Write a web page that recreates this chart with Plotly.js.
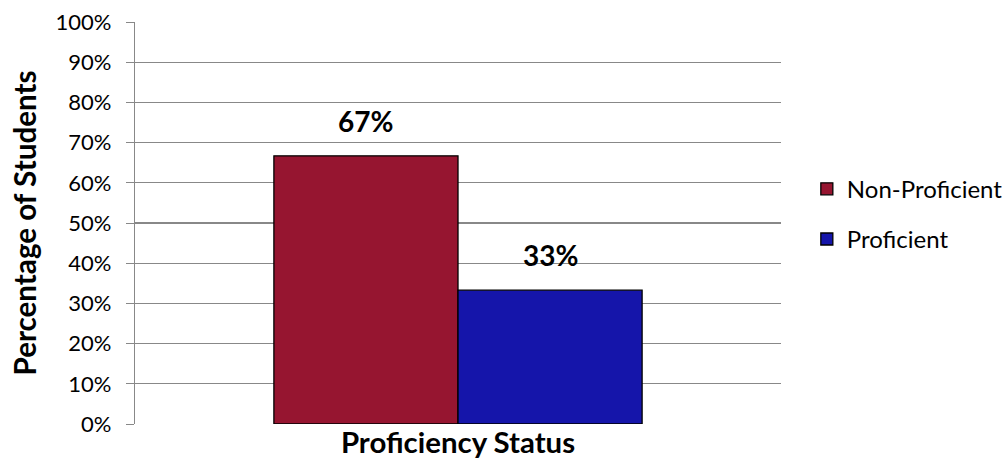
<!DOCTYPE html>
<html>
<head>
<meta charset="utf-8">
<script src="https://cdn.plot.ly/plotly-3.0.1.min.js"></script>
<style>html,body{margin:0;padding:0;background:#fff;}#chart{width:1005px;height:466px;}</style>
</head>
<body>
<div id="chart"></div>
<script>
var categories = ['Proficiency Status'];
var seriesNames = ['Non-Proficient', 'Proficient'];
var nonProficient = [66.7];
var proficient = [33.3];
var dataLabels = ['67%', '33%'];
var seriesColors = ['#961530', '#1515AA'];

var font = 'Lato, "Open Sans", sans-serif';
var seriesValues = [nonProficient, proficient];
var traces = seriesNames.map(function (name, i) {
  return {
    type: 'bar',
    name: name,
    legendgroup: 'g' + i,
    x: categories,
    y: seriesValues[i],
    offsetgroup: String(i),
    marker: {color: seriesColors[i], line: {color: '#000000', width: 1.3}},
    hoverinfo: 'skip'
  };
});

// Data labels as annotations anchored to each bar's value (grouped offsets: -0.25 / +0.25 of group width)
var groupWidth = 1 - 0.43;
var annotations = seriesNames.map(function (name, i) {
  var offset = (i === 0 ? -1 : 1) * groupWidth / 4;
  return {
    x: 0 + offset,
    y: seriesValues[i][0],
    xref: 'x', yref: 'y',
    text: '<b>' + dataLabels[i] + '</b>',
    showarrow: false,
    xanchor: 'center', yanchor: 'bottom',
    yshift: 16,
    font: {family: font, size: 28, color: '#000000'}
  };
});

var layout = {
  width: 1005,
  height: 466,
  margin: {l: 135, r: 224, t: 22, b: 42, autoexpand: false},
  paper_bgcolor: '#ffffff',
  plot_bgcolor: '#ffffff',
  font: {family: font, color: '#000000'},
  barmode: 'group',
  bargap: 0.43,
  bargroupgap: 0,
  showlegend: true,
  annotations: annotations,
  legend: {
    x: 1.04, y: 0.64, xanchor: 'left', yanchor: 'top',
    font: {family: font, size: 24, color: '#000000'},
    traceorder: 'grouped',
    tracegroupgap: 16,
    itemwidth: 30
  },
  xaxis: {
    type: 'category',
    showticklabels: false,
    ticks: '',
    showgrid: false,
    showline: false,
    zeroline: false,
    title: {text: 'Proficiency Status', font: {family: font, size: 29.4, weight: 'bold', color: '#000000'}, standoff: 8}
  },
  yaxis: {
    range: [0, 100],
    dtick: 10,
    tick0: 0,
    ticksuffix: '%',
    tickfont: {family: font, size: 22, color: '#000000'},
    ticks: 'outside',
    ticklen: 8,
    tickcolor: '#888888',
    ticklabelstandoff: 10,
    showgrid: true,
    gridcolor: '#888888',
    gridwidth: 1.3,
    showline: true,
    linecolor: '#888888',
    linewidth: 1.3,
    zeroline: false,
    title: {text: 'Percentage of Students', font: {family: font, size: 29.6, weight: 'bold', color: '#000000'}, standoff: 10}
  }
};

Plotly.newPlot('chart', traces, layout, {displayModeBar: false, staticPlot: true});
</script>
</body>
</html>
